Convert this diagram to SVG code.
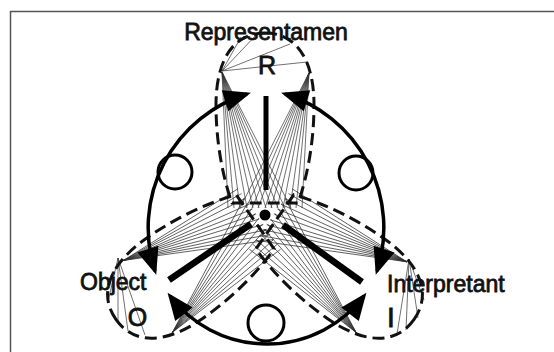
<svg xmlns="http://www.w3.org/2000/svg" width="554" height="352" viewBox="0 0 554 352">
  <style>
    .lbl { font-family: "Liberation Sans", Arial, sans-serif; font-size: 23px; fill: #111; stroke: #111; stroke-width: 0.8; }
    .sym { font-family: "Liberation Sans", Arial, sans-serif; fill: #111; stroke: #111; stroke-width: 0.8; text-anchor: middle; }
    .lobe { fill: none; stroke: #111; stroke-width: 3; stroke-dasharray: 12 6; }
    .hatch { fill: none; stroke: #333; stroke-width: 0.7; }
    .bar { stroke: #000; stroke-width: 6.5; stroke-linecap: butt; }
    .arc { fill: none; stroke: #000; stroke-width: 3.5; marker-start: url(#head); marker-end: url(#head); }
    .loop { fill: none; stroke: #000; stroke-width: 3; }
  </style>
  <defs>
    <marker id="head" markerUnits="userSpaceOnUse" viewBox="-28 -13 34 26" refX="0" refY="0" markerWidth="34" markerHeight="26" orient="auto-start-reverse">
      <path d="M4,0 L-23,-11 L-23,11 Z" fill="#000"/>
    </marker>
    <!-- egg-shaped lobe, drawn in the upright position; the others are rotated copies about the centre -->
    <path id="lobe" d="M265,33 C298,33 314,62 314,105 C314,140 308,175 298,203 L232,203 C222,175 216,140 216,105 C216,62 232,33 265,33 Z"/>
    <!-- fans of thin rays from the centre to the two upper corners of the lobe -->
    <path id="fan-a" d="M222,72 L228,208 M222,72 L234,208 M222,72 L240,208 M222,72 L247,208 M222,72 L253,208 M222,72 L259,208 M222,72 L266,208 M222,72 L272,208 M222,72 L278,208 M222,72 L285,208 M222,72 L291,208"/>
    <path id="fan-b" d="M309,73 L240,208 M309,73 L246,208 M309,73 L252,208 M309,73 L258,208 M309,73 L265,208 M309,73 L271,208 M309,73 L277,208 M309,73 L283,208 M309,73 L290,208 M309,73 L296,208 M309,73 L302,208"/>
  </defs>

  <rect x="0" y="0" width="554" height="352" fill="#fff"/>
  <rect x="10.5" y="11.5" width="600" height="400" fill="none" stroke="#555" stroke-width="1.5"/>

  <!-- ray hatching -->
  <g id="hatching" class="hatch">
    <use href="#fan-a"/>
    <use href="#fan-b"/>
    <use href="#fan-a" transform="rotate(125 265 215)"/>
    <use href="#fan-b" transform="rotate(125 265 215)"/>
    <use href="#fan-a" transform="rotate(-125 265 215)"/>
    <use href="#fan-b" transform="rotate(-125 265 215)"/>
    <path d="M222,71 L241,37 M222,71 L258,33 M222,71 L290,44 M222,71 L307,62"/>
    <path d="M409,259 L397,334 M409,259 L406,330 M409,259 L418,318 M409,259 L424,300"/>
    <path d="M118,258 L108,302 M118,258 L118,322 M118,258 L128,331 M118,258 L145,335"/>
  </g>

  <g id="representamen">
    <use href="#lobe" class="lobe"/>
    <text class="lbl" x="266" y="40" text-anchor="middle">Representamen</text>
    <text class="sym" x="267" y="74" font-size="25">R</text>
  </g>

  <g id="object">
    <use href="#lobe" class="lobe" transform="rotate(-125 265 215)"/>
    <text class="lbl" x="80" y="290">Object</text>
    <text class="sym" x="137.5" y="326" font-size="25">O</text>
  </g>

  <g id="interpretant">
    <use href="#lobe" class="lobe" transform="rotate(125 265 215)"/>
    <text class="lbl" x="387" y="292">Interpretant</text>
    <text class="sym" x="391" y="327" font-size="28">I</text>
  </g>

  <!-- central hub -->
  <g id="hub">
    <line class="bar" x1="266" y1="96" x2="266" y2="190" style="stroke-width:5"/>
    <line class="bar" x1="251" y1="224" x2="169" y2="280"/>
    <line class="bar" x1="283" y1="225" x2="362" y2="282"/>
    <circle cx="265" cy="215" r="5.5" fill="#000"/>
  </g>

  <!-- double-headed connectors, each with a small loop -->
  <g id="connectors">
    <path class="arc" d="M247,94 A140,140 0 0 0 155,271"/>
    <path class="arc" d="M285,94 A140,140 0 0 1 377,271"/>
    <path class="arc" d="M170,296 A122,122 0 0 0 364,296"/>
    <circle class="loop" cx="175" cy="172" r="17"/>
    <circle class="loop" cx="356" cy="173" r="17"/>
    <circle class="loop" cx="266" cy="323" r="18"/>
  </g>
</svg>
